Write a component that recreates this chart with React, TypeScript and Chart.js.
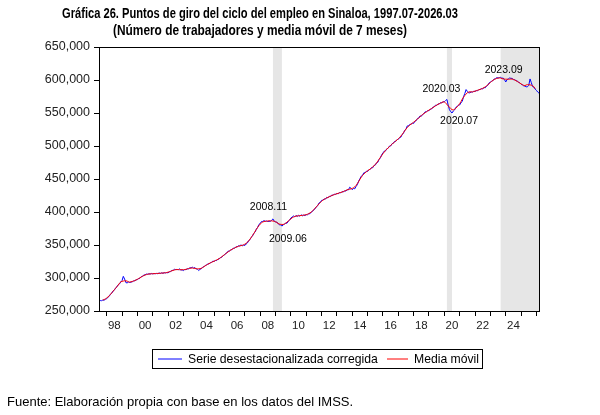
import React, { useEffect, useRef } from "react";
import { Chart, registerables } from "chart.js";

Chart.register(...registerables);

// Empleo formal en Sinaloa, serie desestacionalizada corregida (miles de trabajadores), 1997.07-2026.03
const emp1997 = [265.0, 265.8, 265.6, 266.6, 266.4, 267.8];
const emp1998 = [268.5, 271.0, 272.3, 275.6, 277.0, 280.4, 281.6, 285.0, 286.6, 289.8, 291.0, 294.0];
const emp1999 = [296.0, 302.5, 298.5, 293.0, 292.5, 294.0, 293.2, 293.8, 294.2, 295.6, 295.8, 297.2];
const emp2000 = [297.5, 299.2, 299.6, 302.0, 302.4, 304.6, 304.6, 306.0, 305.6, 306.4, 306.0, 306.9];
const emp2001 = [306.2, 306.8, 306.4, 307.0, 306.5, 307.6, 306.8, 307.9, 307.0, 308.2, 307.6, 308.2];
const emp2002 = [307.8, 309.4, 309.8, 311.5, 311.6, 313.2, 312.8, 313.0, 312.5, 313.8, 312.0, 312.4];
const emp2003 = [311.2, 312.9, 312.6, 314.0, 313.8, 315.5, 315.3, 316.4, 314.8, 315.9, 313.8, 313.2];
const emp2004 = [311.4, 313.2, 314.0, 316.3, 317.0, 319.0, 319.4, 321.5, 321.3, 323.0, 323.6, 325.6];
const emp2005 = [325.1, 326.6, 326.4, 328.5, 329.0, 331.0, 331.4, 334.0, 334.6, 337.3, 338.0, 340.8];
const emp2006 = [340.8, 342.6, 343.0, 345.3, 345.0, 347.3, 347.0, 348.8, 348.6, 350.2, 348.8, 349.9];
const emp2007 = [349.2, 351.5, 353.0, 356.6, 358.0, 361.6, 363.5, 367.6, 369.5, 374.0, 376.5, 381.0];
const emp2008 = [382.6, 385.5, 385.6, 387.0, 385.8, 386.4, 385.6, 386.0, 385.6, 387.8, 389.5, 386.0];
const emp2009 = [385.0, 384.5, 383.0, 380.5, 380.6, 378.6, 380.5, 381.6, 383.2, 383.0, 386.0, 387.6];
const emp2010 = [391.0, 392.3, 394.0, 392.6, 394.8, 393.3, 395.0, 393.6, 395.8, 394.2, 395.4, 394.6];
const emp2011 = [396.0, 395.8, 397.4, 397.4, 400.1, 401.0, 403.6, 405.0, 408.2, 409.5, 413.6, 414.5];
const emp2012 = [417.6, 418.0, 419.8, 419.4, 422.2, 421.4, 423.8, 423.4, 425.8, 425.2, 427.2, 426.6];
const emp2013 = [428.2, 427.5, 429.5, 429.0, 431.0, 430.2, 432.3, 431.6, 433.8, 433.5, 437.5, 436.0];
const emp2014 = [433.8, 435.6, 435.2, 438.8, 441.4, 446.8, 450.4, 454.2, 455.4, 459.3, 459.4, 461.8];
const emp2015 = [461.4, 464.2, 464.4, 467.3, 467.0, 470.3, 471.0, 474.3, 475.4, 479.8, 482.0, 486.8];
const emp2016 = [489.4, 492.2, 492.5, 495.8, 496.4, 499.8, 500.0, 503.3, 504.0, 506.8, 507.0, 509.8];
const emp2017 = [510.0, 512.8, 513.4, 517.3, 519.0, 523.8, 525.4, 530.4, 530.4, 532.8, 533.0, 534.6];
const emp2018 = [534.2, 537.8, 538.4, 541.8, 542.4, 545.6, 545.0, 547.8, 549.0, 551.8, 551.9, 553.6];
const emp2019 = [553.5, 555.8, 556.0, 558.8, 559.0, 561.8, 561.5, 563.8, 563.5, 565.8, 565.3, 567.0];
const emp2020 = [567.0, 569.0, 570.5, 562.0, 555.0, 552.0, 550.0, 553.0, 554.6, 558.6, 559.6, 562.0];
const emp2021 = [562.2, 565.6, 567.5, 574.6, 579.6, 585.5, 582.6, 580.4, 580.6, 582.0, 581.6, 583.0];
const emp2022 = [582.6, 584.0, 583.6, 585.6, 585.6, 587.0, 586.6, 588.5, 588.2, 590.6, 592.0, 595.6];
const emp2023 = [596.6, 598.6, 599.0, 601.6, 602.0, 603.6, 603.0, 603.6, 604.0, 602.6, 603.0, 600.6];
const emp2024 = [597.0, 600.5, 601.6, 603.0, 602.6, 602.4, 600.6, 600.4, 599.0, 598.4, 596.6, 595.8];
const emp2025 = [593.6, 592.8, 591.2, 590.8, 589.7, 589.8, 592.0, 601.6, 596.0, 590.0, 589.2, 586.2];
const emp2026 = [584.2, 581.8, 580.0];

const FIRST_PERIOD = "1997.07";
const LAST_PERIOD = "2026.03";
const MA_WINDOW = 7;

// Periodos sombreados (fase de contracción)
const contractionStarts = ["2008.11", "2020.03", "2023.09"];
const contractionEnds = ["2009.06", "2020.07", "2026.03"];

// Puntos de giro rotulados y desplazamiento de cada rótulo (px)
const turningPoints = ["2008.11", "2009.06", "2020.03", "2020.07", "2023.09"];
const turningOffsetX = [-4.5, 6, -5.5, 7, 3];
const turningOffsetY = [-11.5, 12.5, -10.5, 8, -7];

const yTickValues = [250000, 300000, 350000, 400000, 450000, 500000, 550000, 600000, 650000];
const xTickYears = [1998, 1999, 2000, 2001, 2002, 2003, 2004, 2005, 2006, 2007, 2008, 2009, 2010, 2011, 2012, 2013, 2014, 2015, 2016, 2017, 2018, 2019, 2020, 2021, 2022, 2023, 2024, 2025, 2026];
const xLabelYears = [1998, 2000, 2002, 2004, 2006, 2008, 2010, 2012, 2014, 2016, 2018, 2020, 2022, 2024];

const TITLE_LINE_1 = "Gráfica 26. Puntos de giro del ciclo del empleo en Sinaloa, 1997.07-2026.03";
const TITLE_LINE_2 = "(Número de trabajadores y media móvil de 7 meses)";
const SERIES_LABEL = "Serie desestacionalizada corregida";
const MA_LABEL = "Media móvil";
const SOURCE_NOTE = "Fuente: Elaboración propia con base en los datos del IMSS.";

const FONT = "'Liberation Sans', Arial, Helvetica, sans-serif";

const periodToX = (p: string) => {
  const [y, m] = p.split(".").map(Number);
  return y + (m - 1) / 12;
};

const monthly = [
  emp1997, emp1998, emp1999, emp2000, emp2001, emp2002, emp2003, emp2004, emp2005, emp2006,
  emp2007, emp2008, emp2009, emp2010, emp2011, emp2012, emp2013, emp2014, emp2015, emp2016,
  emp2017, emp2018, emp2019, emp2020, emp2021, emp2022, emp2023, emp2024, emp2025, emp2026,
].flat().map((v) => v * 1000);

const x0 = periodToX(FIRST_PERIOD);
const seriesPoints = monthly.map((v, i) => ({ x: x0 + i / 12, y: v }));

// media móvil centrada de 7 meses
const half = Math.floor(MA_WINDOW / 2);
const maPoints = monthly.map((_, i) => {
  if (i < half || i >= monthly.length - half) return { x: x0 + i / 12, y: null as number | null };
  let s = 0;
  for (let k = i - half; k <= i + half; k++) s += monthly[k];
  return { x: x0 + i / 12, y: s / MA_WINDOW };
});

const valueAt = (p: string) => monthly[Math.round((periodToX(p) - x0) * 12)];

const decorations = {
  id: "decorations",
  beforeDatasetsDraw(chart: any) {
    const { ctx, chartArea, scales } = chart;
    ctx.save();
    ctx.fillStyle = "#E6E6E6";
    contractionStarts.forEach((s, i) => {
      const a = Math.max(scales.x.getPixelForValue(periodToX(s)), chartArea.left);
      const b = Math.min(scales.x.getPixelForValue(periodToX(contractionEnds[i])), chartArea.right);
      ctx.fillRect(a, chartArea.top, b - a, chartArea.bottom - chartArea.top);
    });
    ctx.restore();
  },
  afterDraw(chart: any) {
    const { ctx, chartArea, scales } = chart;
    ctx.save();
    // marco del área de trazo
    ctx.strokeStyle = "#000";
    ctx.lineWidth = 1;
    ctx.strokeRect(
      Math.round(chartArea.left) + 0.5,
      Math.round(chartArea.top) + 0.5,
      Math.round(chartArea.right - chartArea.left),
      Math.round(chartArea.bottom - chartArea.top)
    );

    // título
    ctx.fillStyle = "#000";
    ctx.textAlign = "center";
    ctx.textBaseline = "middle";
    ctx.font = `bold 14px ${FONT}`;
    ctx.fillText(TITLE_LINE_1, 260, 14, 396);
    ctx.fillText(TITLE_LINE_2, 260, 31, 294);

    // rótulos de puntos de giro
    ctx.font = `10.5px ${FONT}`;
    turningPoints.forEach((p, i) => {
      const px = scales.x.getPixelForValue(periodToX(p));
      const py = scales.y.getPixelForValue(valueAt(p));
      ctx.fillText(p, px + turningOffsetX[i], py + turningOffsetY[i]);
    });

    // leyenda
    const lx = 152.5, ly = 349.5, lw = 330, lh = 19;
    ctx.strokeRect(lx, ly, lw, lh);
    const my = ly + lh / 2;
    ctx.lineWidth = 1;
    ctx.strokeStyle = "#0000FF";
    ctx.beginPath();
    ctx.moveTo(158, my);
    ctx.lineTo(182, my);
    ctx.stroke();
    ctx.strokeStyle = "#FF0000";
    ctx.beginPath();
    ctx.moveTo(387, my);
    ctx.lineTo(408, my);
    ctx.stroke();
    ctx.font = `12.2px ${FONT}`;
    ctx.textAlign = "left";
    ctx.fillStyle = "#000";
    ctx.fillText(SERIES_LABEL, 188, my + 0.5);
    ctx.fillText(MA_LABEL, 414, my + 0.5);

    // fuente
    ctx.font = `13px ${FONT}`;
    ctx.fillText(SOURCE_NOTE, 7, 402);
    ctx.restore();
  },
};

export default function App() {
  const canvasRef = useRef<HTMLCanvasElement | null>(null);

  useEffect(() => {
    const canvas = canvasRef.current;
    if (!canvas) return;
    const chart = new Chart(canvas, {
      type: "line",
      data: {
        datasets: [
          {
            label: MA_LABEL,
            data: maPoints as any,
            borderColor: "#FF0000",
            borderWidth: 1,
            pointRadius: 0,
            tension: 0,
            order: 0,
          },
          {
            label: SERIES_LABEL,
            data: seriesPoints as any,
            borderColor: "#0000FF",
            borderWidth: 1,
            pointRadius: 0,
            tension: 0,
            order: 1,
          },
        ],
      },
      options: {
        animation: false,
        responsive: false,
        events: [],
        layout: { padding: { top: 47, right: 61, left: 0, bottom: 0 } },
        plugins: {
          legend: { display: false },
          title: { display: false },
          tooltip: { enabled: false },
        },
        scales: {
          x: {
            type: "linear",
            min: x0,
            max: periodToX(LAST_PERIOD),
            afterBuildTicks: (s: any) => {
              s.ticks = xTickYears.map((v) => ({ value: v }));
            },
            afterFit: (s: any) => {
              s.height = 104;
            },
            border: { display: false },
            grid: { drawOnChartArea: false, drawTicks: true, tickLength: 5, color: "#000" },
            ticks: {
              autoSkip: false,
              maxRotation: 0,
              minRotation: 0,
              labelOffset: 7.65,
              padding: 3,
              color: "#222",
              font: { family: FONT, size: 11.5 },
              callback: (v: any) => (xLabelYears.includes(Number(v)) ? String(Number(v) % 100).padStart(2, "0") : ""),
            },
          },
          y: {
            min: yTickValues[0],
            max: yTickValues[yTickValues.length - 1],
            afterBuildTicks: (s: any) => {
              s.ticks = yTickValues.map((v) => ({ value: v }));
            },
            afterFit: (s: any) => {
              s.width = 99;
            },
            border: { display: false },
            grid: { drawOnChartArea: false, drawTicks: true, tickLength: 5, color: "#000" },
            ticks: {
              padding: 4,
              color: "#222",
              font: { family: FONT, size: 12.5 },
              callback: (v: any) => Number(v).toLocaleString("en-US"),
            },
          },
        },
      },
      plugins: [decorations],
    });
    return () => chart.destroy();
  }, []);

  return (
    <div style={{ position: "absolute", left: 0, top: 0, width: 600, height: 415, background: "#fff" }}>
      <canvas ref={canvasRef} width={600} height={415} />
    </div>
  );
}
